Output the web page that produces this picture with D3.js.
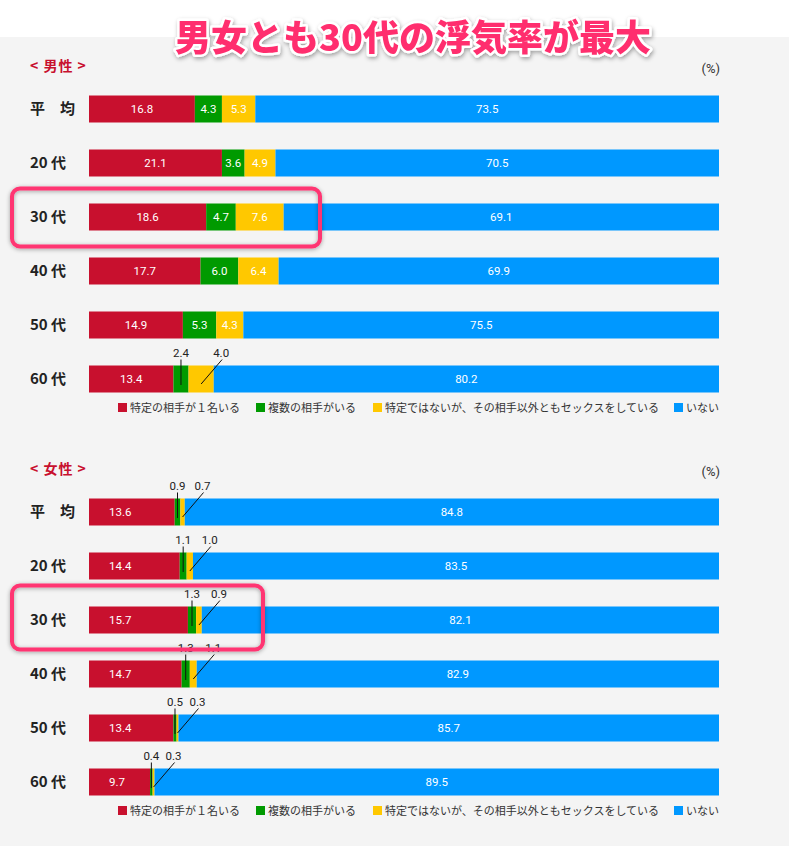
<!DOCTYPE html>
<html><head><meta charset="utf-8">
<script src="https://cdn.jsdelivr.net/npm/d3@7"></script>
<style>
html,body{margin:0;padding:0;background:#fff;}
svg{display:block;}
</style></head>
<body>
<svg id="c" width="789" height="846"></svg>
<script>
const title = "男女とも30代の浮気率が最大";
const categories = ["平　均", "20 代", "30 代", "40 代", "50 代", "60 代"];
const seriesNames = ["特定の相手が１名いる", "複数の相手がいる", "特定ではないが、その相手以外ともセックスをしている", "いない"];
const seriesColors = ["#c8102e", "#009a00", "#ffc800", "#0098ff"];
const menOne   = [16.8, 21.1, 18.6, 17.7, 14.9, 13.4];
const menMulti = [4.3, 3.6, 4.7, 6.0, 5.3, 2.4];
const menOther = [5.3, 4.9, 7.6, 6.4, 4.3, 4.0];
const menNone  = [73.5, 70.5, 69.1, 69.9, 75.5, 80.2];
const womenOne   = [13.6, 14.4, 15.7, 14.7, 13.4, 9.7];
const womenMulti = [0.9, 1.1, 1.3, 1.3, 0.5, 0.4];
const womenOther = [0.7, 1.0, 0.9, 1.1, 0.3, 0.3];
const womenNone  = [84.8, 83.5, 82.1, 82.9, 85.7, 89.5];

const svg = d3.select("#c");
const W = 789, H = 846;
const defs = svg.append("defs");
const f = defs.append("filter").attr("id","sh").attr("x","-20%").attr("y","-30%").attr("width","140%").attr("height","160%");
f.append("feDropShadow").attr("dx",0).attr("dy",1).attr("stdDeviation",2).attr("flood-color","#000").attr("flood-opacity",0.35);
const f2 = defs.append("filter").attr("id","tsh").attr("x","-10%").attr("y","-30%").attr("width","120%").attr("height","160%");
f2.append("feDropShadow").attr("dx",1).attr("dy",2).attr("stdDeviation",2).attr("flood-color","#000").attr("flood-opacity",0.35);

svg.append("rect").attr("x",0).attr("y",37).attr("width",W).attr("height",H-37).attr("fill","#f4f4f4");

const x = d3.scaleLinear().domain([0,100]).range([89,719]);
const numFont = "Roboto, 'Noto Sans', sans-serif";
const jpFont = "'Noto Sans CJK JP', 'Noto Sans', sans-serif";

function panel(top, label, one, multi, other, none, small) {
  const g = svg.append("g");
  g.append("text").attr("x",30).attr("y",top+1).attr("font-family",jpFont).attr("font-weight",700)
    .attr("font-size",14).attr("letter-spacing",1).attr("fill","#c8102e").text(label);
  g.append("text").attr("x",720).attr("y",top+3).attr("text-anchor","end").attr("font-family",numFont)
    .attr("font-size",13).attr("fill","#333").text("(%)");
  const y = d3.scaleBand().domain(categories).range([top+12, top+336]).paddingInner(0.5).paddingOuter(0.25);
  const rows = categories.map((c,i)=>({c, vals:[one[i],multi[i],other[i],none[i]]}));
  rows.forEach((r,i)=>{
    const yy = y(r.c), bh = y.bandwidth();
    g.append("text").attr("x",30).attr("y",yy+bh/2+5).attr("font-family",jpFont).attr("font-weight",700)
      .attr("font-size",15).attr("fill","#222").text(r.c);
    let acc = 0;
    const segs = r.vals.map((v,k)=>{const s={k,v,a:acc,b:acc+v}; acc+=v; return s;});
    const rowOutside = r.vals[1] < 3;
    segs.forEach(s=>{
      g.append("rect").attr("x",x(s.a)).attr("y",yy).attr("width",Math.max(0,(s.k===3?x(100):x(s.b))-x(s.a)))
        .attr("height",bh).attr("fill",seriesColors[s.k]);
    });
    segs.forEach(s=>{
      const x0 = x(s.a), x1 = s.k===3?x(100):x(s.b), cx=(x0+x1)/2;
      const outside = (s.k===1||s.k===2) && rowOutside;
      if (!outside) {
        let tx = cx, anchor = "middle";
        if (s.k===0 && small) { tx = x0+20; anchor="start"; }
        g.append("text").attr("x",tx).attr("y",yy+bh/2+4).attr("text-anchor",anchor)
          .attr("font-family",numFont).attr("font-size",11.5).attr("fill","#fff").text(s.v.toFixed(1));
      } else if (s.k===1) {
        g.append("line").attr("x1",cx).attr("x2",cx).attr("y1",yy-6).attr("y2",yy+bh/2+6)
          .attr("stroke","#111").attr("stroke-width",1);
        g.append("text").attr("x",cx).attr("y",yy-9).attr("text-anchor","middle")
          .attr("font-family",numFont).attr("font-size",11.5).attr("fill","#222").text(s.v.toFixed(1));
      } else {
        const lx = cx + 21;
        g.append("line").attr("x1",lx).attr("x2",cx).attr("y1",yy-6).attr("y2",yy+bh/2+5)
          .attr("stroke","#111").attr("stroke-width",1);
        g.append("text").attr("x",lx-1).attr("y",yy-9).attr("text-anchor","middle")
          .attr("font-family",numFont).attr("font-size",11.5).attr("fill","#222").text(s.v.toFixed(1));
      }
    });
  });
  // legend
  const lg = g.append("g").attr("transform",`translate(118,${top+342})`);
  const offs = [0, 138, 255, 556];
  seriesNames.forEach((n,k)=>{
    lg.append("rect").attr("x",offs[k]).attr("y",-9).attr("width",9).attr("height",9).attr("fill",seriesColors[k]);
    lg.append("text").attr("x",offs[k]+12).attr("y",0).attr("font-family",jpFont).attr("font-size",11)
      .attr("fill","#333").text(n);
  });
  return y;
}

const yM = panel(70, "< 男性 >", menOne, menMulti, menOther, menNone, false);
const yW = panel(473, "< 女性 >", womenOne, womenMulti, womenOther, womenNone, true);

// highlight boxes
svg.append("rect").attr("x",12).attr("y",yM("30 代")-15).attr("width",308).attr("height",58).attr("rx",8)
  .attr("fill","none").attr("stroke","#ff3472").attr("stroke-width",4).attr("filter","url(#sh)");
svg.append("rect").attr("x",12).attr("y",yW("30 代")-21).attr("width",251).attr("height",64).attr("rx",8)
  .attr("fill","none").attr("stroke","#ff3472").attr("stroke-width",4).attr("filter","url(#sh)");

// title
svg.append("text").attr("x",413).attr("y",51).attr("text-anchor","middle").attr("font-family",jpFont)
  .attr("font-weight",900).attr("font-size",36).attr("fill","#ff2f6e").attr("stroke","#fff").attr("stroke-width",5)
  .attr("paint-order","stroke").attr("stroke-linejoin","round").attr("filter","url(#tsh)").text(title);
</script>
</body></html>
